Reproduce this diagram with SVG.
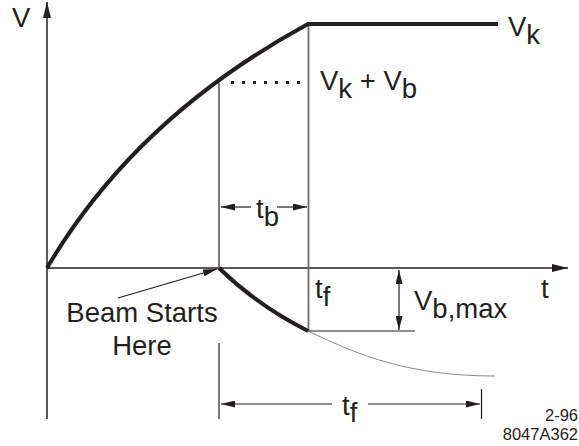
<svg xmlns="http://www.w3.org/2000/svg" width="579" height="446" viewBox="0 0 579 446">
<style>
text{font-family:"Liberation Sans",Arial,sans-serif;fill:#231f20}
.lbl{font-size:27.5px}
.sm{font-size:16.5px}
.ax{stroke:#231f20;stroke-width:1.5;fill:none}
.gr{stroke:#6d6e71;stroke-width:1.8;fill:none}
.thin{stroke:#231f20;stroke-width:1.2;fill:none}
.thick{stroke:#231f20;stroke-width:4;fill:none}
</style>
<defs>
<marker id="ah" viewBox="0 0 16 8" refX="16" refY="4" markerWidth="16" markerHeight="8" markerUnits="userSpaceOnUse" orient="auto-start-reverse">
<path d="M0,0 L16,4 L0,8 Z" fill="#231f20"/>
</marker>
<marker id="sa" viewBox="0 0 14 7" refX="14" refY="3.5" markerWidth="14" markerHeight="7" markerUnits="userSpaceOnUse" orient="auto-start-reverse">
<path d="M0,0 L14,3.5 L0,7 Z" fill="#231f20"/>
</marker>
</defs>
<g id="connectors">
<line class="ax" x1="47" y1="419" x2="47" y2="2" marker-end="url(#ah)"/>
<line class="ax" x1="47" y1="268" x2="568" y2="268" marker-end="url(#ah)"/>
<line class="gr" x1="219" y1="83" x2="219" y2="268"/>
<line class="gr" x1="219" y1="343" x2="219" y2="419"/>
<line class="gr" x1="308.5" y1="24" x2="308.5" y2="331"/>
<line class="thin" x1="481.5" y1="389" x2="481.5" y2="419"/>
<line x1="231" y1="82.5" x2="308" y2="82.5" stroke="#231f20" stroke-width="3" stroke-dasharray="3 8"/>
<path class="thick" d="M47,268 Q135,118 308,24 L498,24"/>
<path class="thick" d="M219,268 Q258,306 308,331"/>
<path d="M308,331 C360,356 410,376 495,376" fill="none" stroke="#8a8a8a" stroke-width="1"/>
<line class="thin" x1="308" y1="331" x2="415" y2="331"/>
<line class="thin" x1="251" y1="207" x2="221" y2="207" marker-end="url(#sa)"/>
<line class="thin" x1="277" y1="207" x2="307" y2="207" marker-end="url(#sa)"/>
<line class="thin" x1="399" y1="270" x2="399" y2="330" marker-start="url(#sa)" marker-end="url(#sa)"/>
<line class="thin" x1="332" y1="404" x2="221" y2="404" marker-end="url(#sa)"/>
<line class="thin" x1="368" y1="404" x2="480" y2="404" marker-end="url(#sa)"/>
<line class="thin" x1="118" y1="298" x2="217" y2="269" marker-end="url(#sa)"/>
</g>
<g id="labels">
<text class="lbl" x="12" y="27">V</text>
<text class="lbl" x="508" y="36">V<tspan dy="8">k</tspan></text>
<text class="lbl" x="320" y="90">V<tspan dy="8">k</tspan><tspan dy="-8"> + V</tspan><tspan dy="8">b</tspan></text>
<text class="lbl" x="256" y="218">t<tspan dy="8">b</tspan></text>
<text class="lbl" x="315" y="298">t<tspan dy="8">f</tspan></text>
<text class="lbl" x="541" y="298">t</text>
<text class="lbl" x="414" y="310">V<tspan dy="8">b,max</tspan></text>
<text class="lbl" x="342" y="415">t<tspan dy="7">f</tspan></text>
<text class="lbl" x="142" y="322" text-anchor="middle">Beam Starts</text>
<text class="lbl" x="142" y="355" text-anchor="middle">Here</text>
<text class="sm" x="578" y="421" text-anchor="end">2-96</text>
<text class="sm" x="578" y="440" text-anchor="end">8047A362</text>
</g>
</svg>
